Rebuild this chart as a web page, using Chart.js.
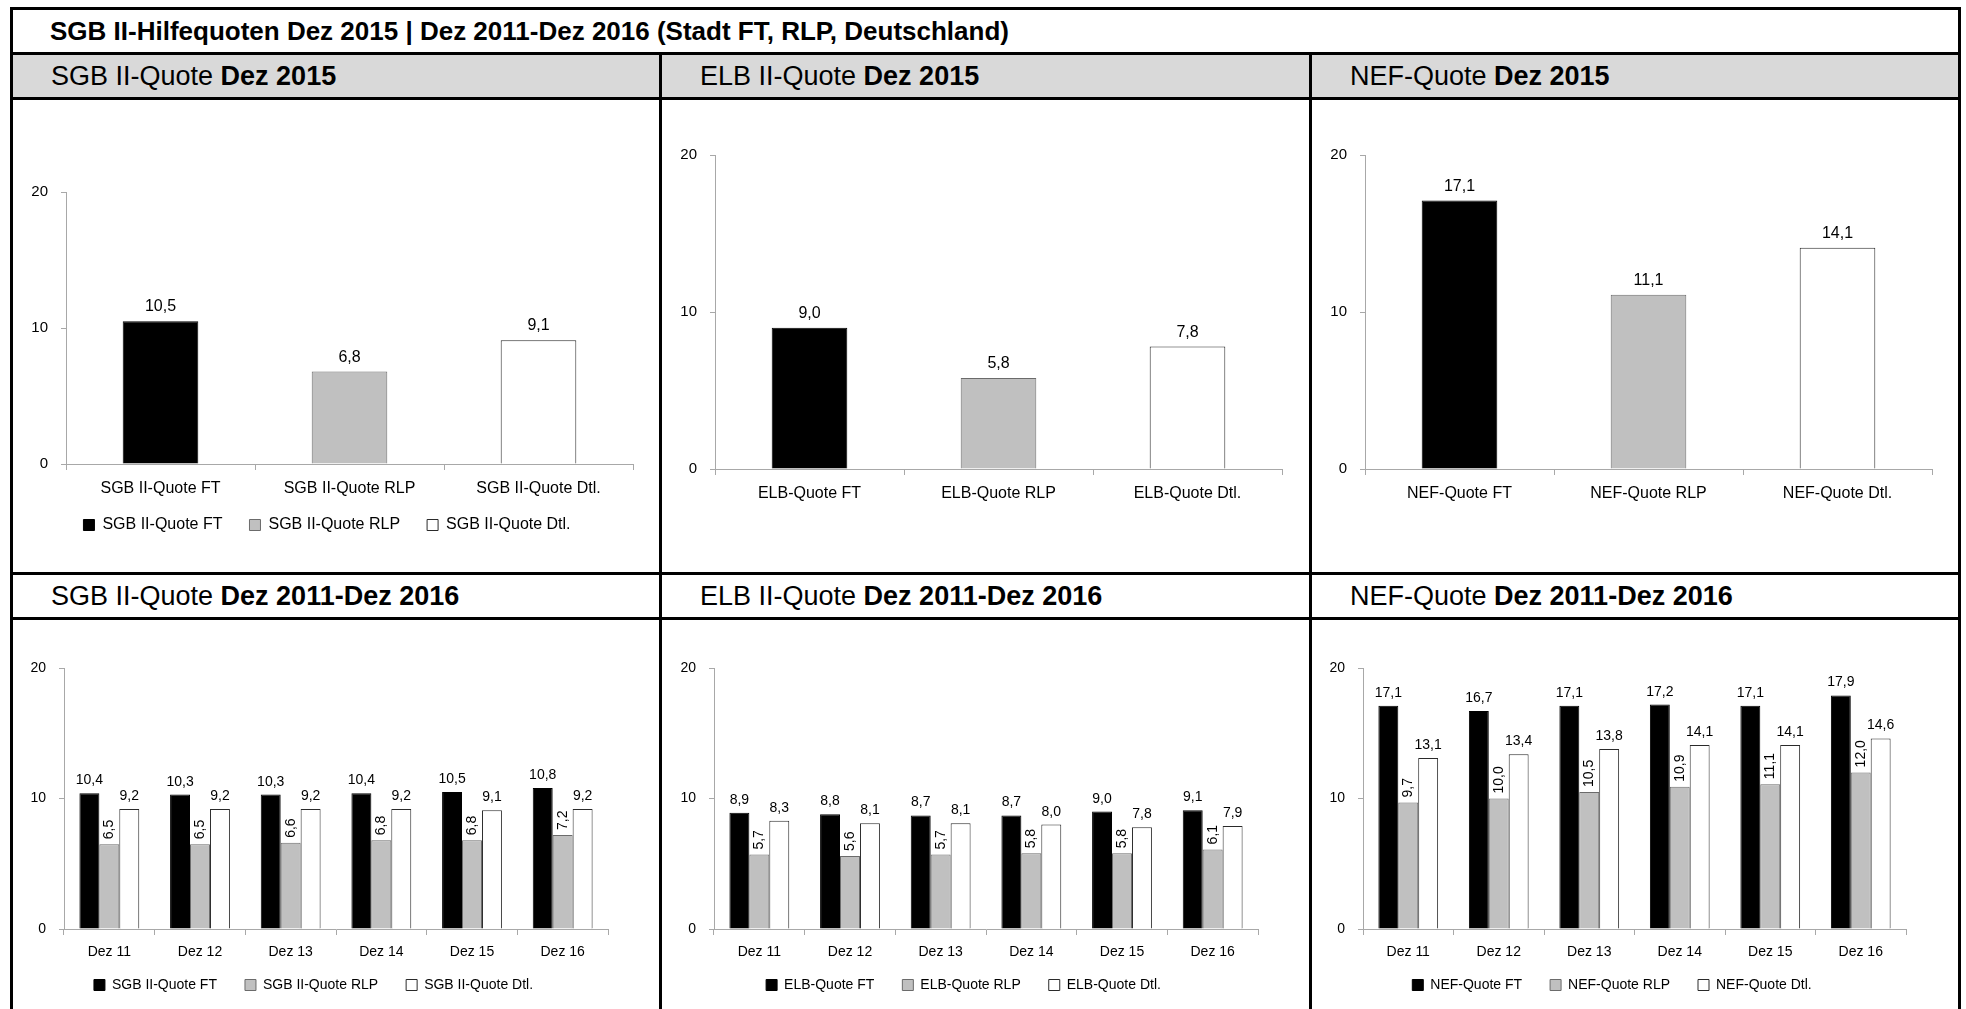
<!DOCTYPE html>
<html lang="de">
<head>
<meta charset="utf-8">
<title>SGB II-Hilfequoten</title>
<script src="https://cdn.jsdelivr.net/npm/chart.js@4.4.1/dist/chart.umd.min.js"></script>
<style>
  html, body { margin: 0; padding: 0; background: #fff; }
  body { width: 1966px; height: 1009px; overflow: hidden; position: relative;
         font-family: "Liberation Sans", Arial, sans-serif; color: #000; }
  .ln { position: absolute; background: #000; }
  .row { position: absolute; display: flex; align-items: center; white-space: nowrap; }
  .hd { font-size: 27px; }
  .cell { position: absolute; }
</style>
</head>
<body>

<!-- Rahmen und Tabellenlinien -->
<div class="row" style="left:13px;top:55px;width:1945px;height:42px;background:#d9d9d9"></div>
<div class="ln" style="left:10px;top:7px;width:1951px;height:3px"></div>
<div class="ln" style="left:10px;top:7px;width:3px;height:1100px"></div>
<div class="ln" style="left:1958px;top:7px;width:3px;height:1100px"></div>
<div class="ln" style="left:10px;top:52px;width:1951px;height:3px"></div>
<div class="ln" style="left:10px;top:97px;width:1951px;height:3px"></div>
<div class="ln" style="left:10px;top:572px;width:1951px;height:3px"></div>
<div class="ln" style="left:10px;top:617px;width:1951px;height:3px"></div>
<div class="ln" style="left:659px;top:52px;width:3px;height:1100px"></div>
<div class="ln" style="left:1309px;top:52px;width:3px;height:1100px"></div>

<div class="row" style="left:50px;top:10px;height:42px;font-size:26px;font-weight:bold">
  <span>SGB II-Hilfequoten Dez 2015 | Dez 2011-Dez 2016 (Stadt FT, RLP, Deutschland)</span></div>

<div class="row hd" style="left:51px;top:55px;height:42px"><span>SGB II-Quote <b>Dez 2015</b></span></div>
<div class="row hd" style="left:700px;top:55px;height:42px"><span>ELB II-Quote <b>Dez 2015</b></span></div>
<div class="row hd" style="left:1350px;top:55px;height:42px"><span>NEF-Quote <b>Dez 2015</b></span></div>
<div class="row hd" style="left:51px;top:575px;height:42px"><span>SGB II-Quote <b>Dez 2011-Dez 2016</b></span></div>
<div class="row hd" style="left:700px;top:575px;height:42px"><span>ELB II-Quote <b>Dez 2011-Dez 2016</b></span></div>
<div class="row hd" style="left:1350px;top:575px;height:42px"><span>NEF-Quote <b>Dez 2011-Dez 2016</b></span></div>

<div class="cell" style="left:13px;top:100px;width:646px;height:472px"><canvas id="c1"></canvas></div>
<div class="cell" style="left:662px;top:100px;width:647px;height:472px"><canvas id="c2"></canvas></div>
<div class="cell" style="left:1312px;top:100px;width:646px;height:472px"><canvas id="c3"></canvas></div>
<div class="cell" style="left:13px;top:620px;width:646px;height:389px"><canvas id="c4"></canvas></div>
<div class="cell" style="left:662px;top:620px;width:647px;height:389px"><canvas id="c5"></canvas></div>
<div class="cell" style="left:1312px;top:620px;width:646px;height:389px"><canvas id="c6"></canvas></div>

<script>
// Daten Dez 2015
const sgbCats = ['SGB II-Quote FT', 'SGB II-Quote RLP', 'SGB II-Quote Dtl.'];
const elbCats = ['ELB-Quote FT', 'ELB-Quote RLP', 'ELB-Quote Dtl.'];
const nefCats = ['NEF-Quote FT', 'NEF-Quote RLP', 'NEF-Quote Dtl.'];
const sgb2015 = [10.5, 6.8, 9.1];
const elb2015 = [9.0, 5.8, 7.8];
const nef2015 = [17.1, 11.1, 14.1];

// Daten Dez 2011 - Dez 2016
const years = ['Dez 11', 'Dez 12', 'Dez 13', 'Dez 14', 'Dez 15', 'Dez 16'];
const sgbFT  = [10.4, 10.3, 10.3, 10.4, 10.5, 10.8];
const sgbRLP = [6.5, 6.5, 6.6, 6.8, 6.8, 7.2];
const sgbDtl = [9.2, 9.2, 9.2, 9.2, 9.1, 9.2];
const elbFT  = [8.9, 8.8, 8.7, 8.7, 9.0, 9.1];
const elbRLP = [5.7, 5.6, 5.7, 5.8, 5.8, 6.1];
const elbDtl = [8.3, 8.1, 8.1, 8.0, 7.8, 7.9];
const nefFT  = [17.1, 16.7, 17.1, 17.2, 17.1, 17.9];
const nefRLP = [9.7, 10.0, 10.5, 10.9, 11.1, 12.0];
const nefDtl = [13.1, 13.4, 13.8, 14.1, 14.1, 14.6];

// Achse
const yTicks = [0, 10, 20];

// Farben FT / RLP / Dtl.
const fills = ['#000000', '#c0c0c0', '#ffffff'];
const strokes = ['#000000', '#6b6b6b', '#2a2a2a'];
const AXIS = '#a8a8a8';
const FONT = '"Liberation Sans", Arial, sans-serif';
const X_H = 42;      // Hoehe der x-Achse (Beschriftung nicht abschneiden)

Chart.defaults.font.family = FONT;
Chart.defaults.color = '#000';

// Werte ueber den Balken (deutsches Komma)
const valueLabels = {
  id: 'valueLabels',
  afterDatasetsDraw(chart, args, opts) {
    const ctx = chart.ctx;
    ctx.save();
    ctx.font = opts.size + 'px ' + FONT;
    ctx.fillStyle = '#000';
    chart.data.datasets.forEach((ds, i) => {
      const meta = chart.getDatasetMeta(i);
      meta.data.forEach((bar, j) => {
        const v = ds.data[j];
        if (v === null || v === undefined) return;
        const txt = v.toFixed(1).replace('.', ',');
        if (opts.rotate === i) {
          ctx.save();
          ctx.translate(bar.x, bar.y - 5);
          ctx.rotate(-Math.PI / 2);
          ctx.textAlign = 'left';
          ctx.textBaseline = 'middle';
          ctx.fillText(txt, 0, 0);
          ctx.restore();
        } else {
          ctx.textAlign = 'center';
          ctx.textBaseline = 'alphabetic';
          ctx.fillText(txt, bar.x, bar.y - opts.gap);
        }
      });
    });
    ctx.restore();
  }
};

function singleDatasets(cats, vals) {
  return cats.map((name, i) => ({
    label: name,
    data: cats.map((c, j) => (j === i ? vals[i] : null)),
    backgroundColor: fills[i],
    borderColor: strokes[i],
    borderWidth: 1
  }));
}

function seriesDatasets(names, series) {
  return names.map((name, i) => ({
    label: name,
    data: series[i],
    backgroundColor: fills[i],
    borderColor: strokes[i],
    borderWidth: 1
  }));
}

// o.area = gewuenschte Plotflaeche im Canvas, o.legendY = Mitte der Legendenzeile
function buildChart(id, labels, datasets, o) {
  const canvas = document.getElementById(id);
  const W = canvas.parentNode.clientWidth;
  const legPad = o.legend ? Math.max(2, o.legendY - o.area.bottom - X_H - o.legFs / 2) : 10;
  const spaces = '\u2002'.repeat(Math.max(0, Math.round((o.legGap - legPad) / (o.legFs / 2))));
  let pad = { left: o.area.left - 45, right: W - o.area.right, top: o.area.top - 10, bottom: 20 };

  const chart = new Chart(canvas, {
    type: 'bar',
    data: { labels: labels, datasets: datasets },
    options: {
      responsive: true,
      maintainAspectRatio: false,
      animation: false,
      devicePixelRatio: 1,
      layout: { padding: pad },
      datasets: { bar: { grouped: o.grouped, barPercentage: o.barPct, categoryPercentage: o.catPct } },
      scales: {
        x: {
          grid: { drawOnChartArea: false, tickLength: 6, color: AXIS, offset: true },
          border: { color: AXIS },
          ticks: { font: { size: o.fs }, padding: 9, maxRotation: 0, autoSkip: false },
          afterFit: s => { s.height = X_H; }
        },
        y: {
          min: 0,
          max: 20,
          afterBuildTicks: s => { s.ticks = yTicks.map(v => ({ value: v })); },
          ticks: { font: { size: o.yFs }, padding: 13 },
          grid: { drawOnChartArea: false, tickLength: 5, color: AXIS },
          border: { color: AXIS },
          afterFit: s => { s.width = 45; }
        }
      },
      plugins: {
        legend: {
          display: o.legend,
          position: 'bottom',
          labels: {
            boxWidth: 11, boxHeight: 11, padding: legPad, font: { size: o.legFs }, color: '#000',
            generateLabels: ch => {
              const items = Chart.defaults.plugins.legend.labels.generateLabels(ch);
              items.forEach((it, k) => { if (k < items.length - 1) it.text += spaces; });
              return items;
            }
          }
        },
        tooltip: { enabled: false },
        valueLabels: { size: o.valFs, gap: o.gap, rotate: o.rotate }
      }
    },
    plugins: [valueLabels]
  });

  // Plotflaeche auf die Zielposition nachziehen
  for (let k = 0; k < 3; k++) {
    const a = chart.chartArea;
    pad = {
      left: pad.left + (o.area.left - a.left),
      right: pad.right + (a.right - o.area.right),
      top: pad.top + (o.area.top - a.top),
      bottom: pad.bottom + (a.bottom - o.area.bottom)
    };
    chart.options.layout.padding = pad;
    chart.update();
  }
  return chart;
}

const topOpts = { grouped: false, barPct: 0.4, catPct: 1, fs: 16, yFs: 15, valFs: 16, legFs: 16, legGap: 29,
                  gap: 10, rotate: -1 };
const botOpts = { grouped: true, barPct: 1, catPct: 0.66, fs: 14, yFs: 14, valFs: 14, legFs: 14, legGap: 26,
                  gap: 9, rotate: 1, legend: true, legendY: 365 };

buildChart('c1', sgbCats, singleDatasets(sgbCats, sgb2015),
  Object.assign({}, topOpts, { legend: true, legendY: 425, area: { left: 53, right: 620, top: 92, bottom: 364 } }));
buildChart('c2', elbCats, singleDatasets(elbCats, elb2015),
  Object.assign({}, topOpts, { legend: false, area: { left: 53, right: 620, top: 55, bottom: 369 } }));
buildChart('c3', nefCats, singleDatasets(nefCats, nef2015),
  Object.assign({}, topOpts, { legend: false, area: { left: 53, right: 620, top: 55, bottom: 369 } }));

buildChart('c4', years, seriesDatasets(sgbCats, [sgbFT, sgbRLP, sgbDtl]),
  Object.assign({}, botOpts, { area: { left: 51, right: 595, top: 48, bottom: 309 } }));
buildChart('c5', years, seriesDatasets(elbCats, [elbFT, elbRLP, elbDtl]),
  Object.assign({}, botOpts, { area: { left: 52, right: 596, top: 48, bottom: 309 } }));
buildChart('c6', years, seriesDatasets(nefCats, [nefFT, nefRLP, nefDtl]),
  Object.assign({}, botOpts, { area: { left: 51, right: 594, top: 48, bottom: 309 } }));
</script>
</body>
</html>
